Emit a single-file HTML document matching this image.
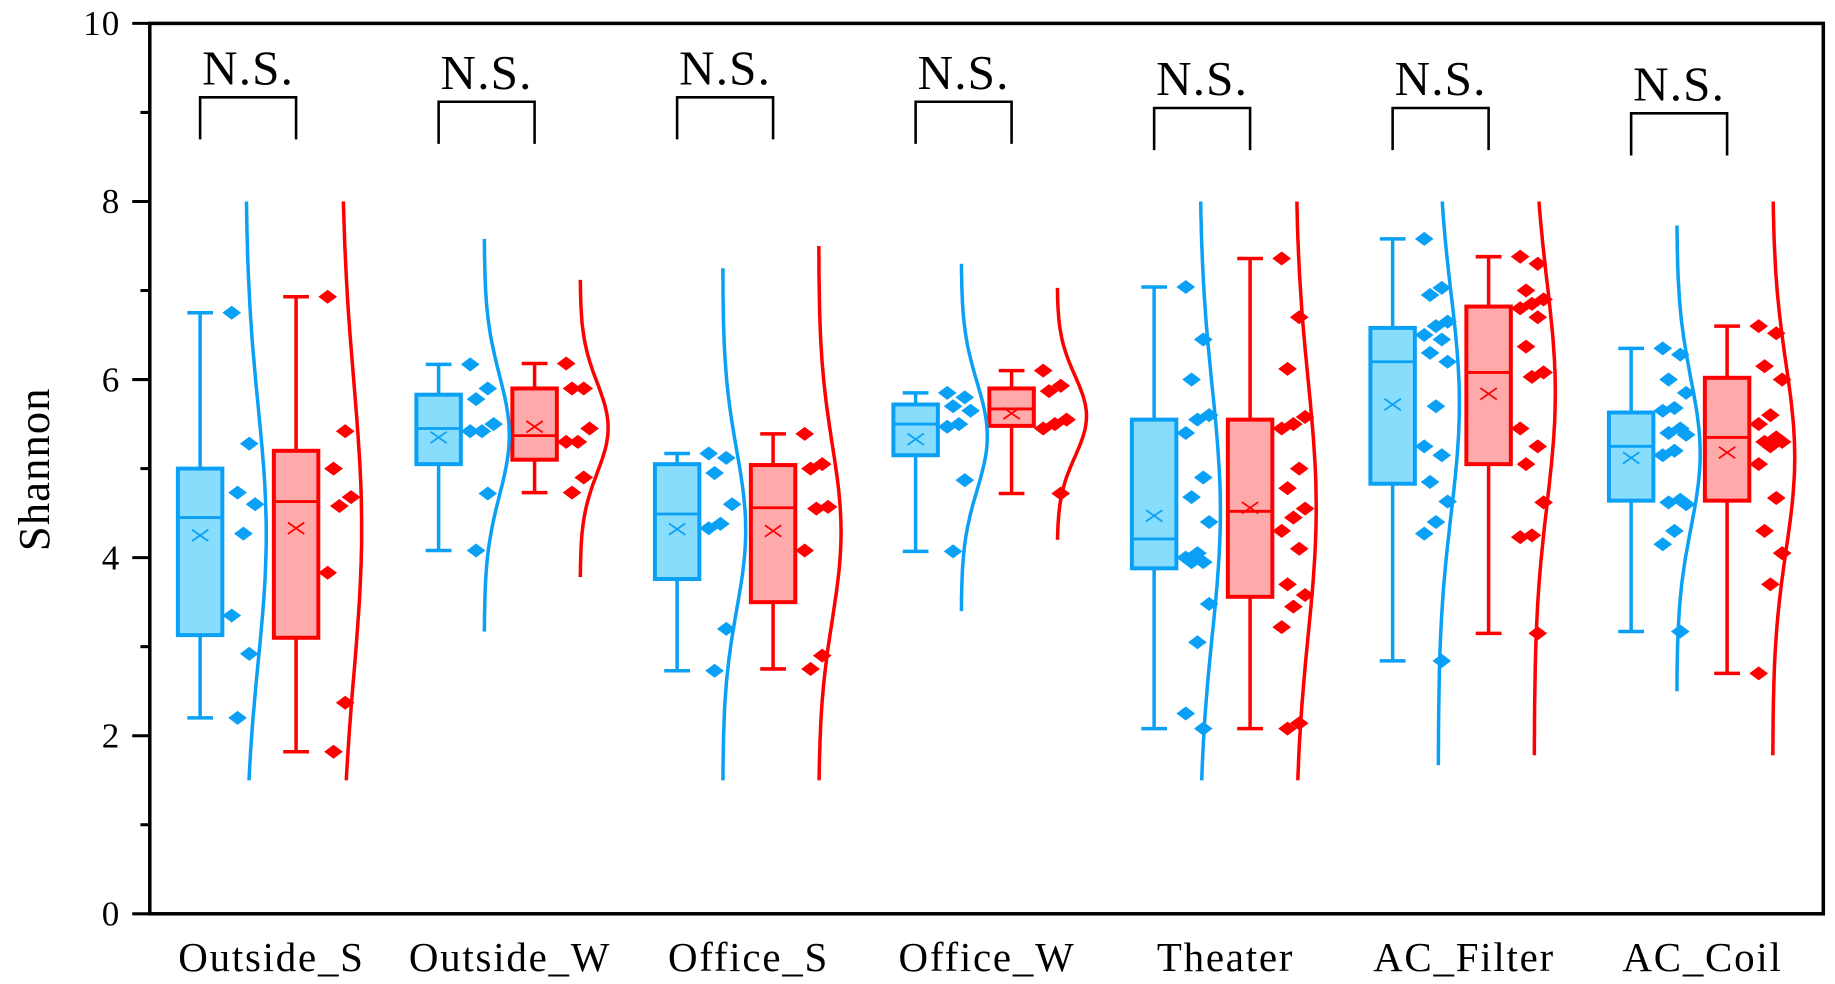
<!DOCTYPE html>
<html><head><meta charset="utf-8"><style>
html,body{margin:0;padding:0;background:#fff;}
svg{display:block;}
text{font-family:"Liberation Serif",serif;fill:#000;}
</style></head><body>
<svg id="chart" width="1835" height="984" viewBox="0 0 1568 841" preserveAspectRatio="none" xmlns="http://www.w3.org/2000/svg">
<g id="plot"></g>
</svg>
<script>
const categories=["Outside_S","Outside_W","Office_S","Office_W","Theater","AC_Filter","AC_Coil"];
const yTicks=[0,2,4,6,8,10];
// box stats: [whiskerLow, q1, median, q3, whiskerHigh, mean]
const blueStats=[[2.2,3.13,4.45,5.0,6.75,4.25],[4.08,5.05,5.45,5.83,6.17,5.35],[2.73,3.76,4.49,5.05,5.17,4.32],[4.07,5.15,5.5,5.72,5.85,5.33],[2.08,3.88,4.21,5.55,7.04,4.47],[2.84,4.83,6.2,6.58,7.58,5.72],[3.17,4.64,5.25,5.63,6.35,5.12]];
const redStats=[[1.82,3.1,4.63,5.2,6.93,4.33],[4.73,5.1,5.37,5.9,6.18,5.47],[2.75,3.5,4.56,5.04,5.39,4.3],[4.72,5.48,5.67,5.9,6.1,5.62],[2.08,3.56,4.52,5.55,7.36,4.56],[3.15,5.05,6.08,6.82,7.38,5.84],[2.7,4.64,5.35,6.02,6.6,5.18]];
const bluePoints=[[6.75,5.28,4.73,4.6,4.27,3.35,2.92,2.2],[6.17,5.9,5.78,5.5,5.42,5.42,4.72,4.08],[5.17,5.12,4.95,4.6,4.38,4.33,3.2,2.73],[5.85,5.8,5.7,5.65,5.5,5.47,4.87,4.07],[7.04,6.45,6.0,5.6,5.55,5.4,4.9,4.68,4.4,4.05,4.0,3.95,3.95,3.48,3.05,2.25,2.08],[7.58,7.03,6.95,6.65,6.6,6.5,6.45,6.3,6.2,5.7,5.25,5.15,4.85,4.63,4.4,4.27,2.84],[6.35,6.28,6.0,5.85,5.68,5.65,5.45,5.4,5.38,5.2,5.15,4.65,4.62,4.6,4.3,4.15,3.17]];
const redPoints=[[6.93,5.42,5.0,4.68,4.58,3.83,2.37,1.82],[6.18,5.9,5.9,5.45,5.3,5.3,4.9,4.73],[5.39,5.05,5.0,4.57,4.55,4.08,2.9,2.75],[6.1,5.93,5.87,5.55,5.5,5.45,4.72],[7.36,6.7,6.12,5.58,5.5,5.45,5.0,4.78,4.55,4.45,4.3,4.1,3.7,3.58,3.45,3.22,2.14,2.08],[7.38,7.3,7.0,6.9,6.85,6.8,6.7,6.37,6.08,6.03,5.45,5.25,5.05,4.62,4.25,4.23,3.15],[6.6,6.52,6.15,6.0,5.6,5.5,5.35,5.3,5.3,5.25,5.05,4.67,4.3,4.05,3.7,2.7]];
// density curve value ranges [low, high]
const blueCurveRange=[[1.5,8],[3.17,7.58],[1.5,7.25],[3.4,7.3],[1.5,8],[1.67,8],[2.5,7.73]];
const redCurveRange=[[1.5,8],[3.78,7.12],[1.5,7.5],[4.2,7.03],[1.5,8],[1.78,8],[1.78,8]];
const nsLevels=[9.17,9.12,9.17,9.12,9.05,9.05,8.99];

const NS="http://www.w3.org/2000/svg";
const L=128,R=1558,T=20,B=781;
const y=v=>B-v*(B-T)/10;
const xc=i=>171+203.8*i;
const BLUE="#0aa0f5",BLUEF="#88ddfd",RED="#ff0000",REDF="#ffaaaa";
const g=document.getElementById('plot');
function el(tag,attrs,parent){const e=document.createElementNS(NS,tag);for(const k in attrs)e.setAttribute(k,attrs[k]);(parent||g).appendChild(e);return e;}

const frame=el('rect',{x:L,y:T,width:R-L,height:B-T,fill:'none',stroke:'#000','stroke-width':3});


for(let v=0;v<=10;v++){
  const t=el('line',{x1:L-(v%2?8:15),x2:L,y1:y(v),y2:y(v),stroke:'#000','stroke-width':2.6});
  
  
}
yTicks.forEach(v=>{
  const t=el('text',{x:103,y:y(v)+10,'text-anchor':'end','font-size':30,'letter-spacing':1});
  t.textContent=v;
  
  
});
const yt=el('text',{x:0,y:0,'text-anchor':'middle','font-size':38,'letter-spacing':1,transform:'translate(42,401) rotate(-90)'});
yt.textContent='Shannon';



function drawBox(cx,s,stroke,fill,name){
  const grp=el('g',{});
  
  
  const w=38,cw=22;
  el('line',{x1:cx,x2:cx,y1:y(s[0]),y2:y(s[1]),stroke,'stroke-width':3},grp);
  el('line',{x1:cx,x2:cx,y1:y(s[3]),y2:y(s[4]),stroke,'stroke-width':3},grp);
  el('line',{x1:cx-cw/2,x2:cx+cw/2,y1:y(s[0]),y2:y(s[0]),stroke,'stroke-width':3},grp);
  el('line',{x1:cx-cw/2,x2:cx+cw/2,y1:y(s[4]),y2:y(s[4]),stroke,'stroke-width':3},grp);
  el('rect',{x:cx-w/2,y:y(s[3]),width:w,height:y(s[1])-y(s[3]),fill,stroke,'stroke-width':3.4},grp);
  el('line',{x1:cx-w/2,x2:cx+w/2,y1:y(s[2]),y2:y(s[2]),stroke,'stroke-width':2.4},grp);
  const m=y(s[5]),d=7;
  el('path',{d:`M${cx-d} ${m-d*0.7}L${cx+d} ${m+d*0.7}M${cx-d} ${m+d*0.7}L${cx+d} ${m-d*0.7}`,stroke,'stroke-width':1.5,fill:'none'},grp);
}
function stats(arr){const m=arr.reduce((a,b)=>a+b,0)/arr.length;const sd=Math.sqrt(arr.reduce((a,b)=>a+(b-m)*(b-m),0)/(arr.length-1));return [m,sd];}
function drawCurve(base,pts,range,stroke,name){
  const [m,sd]=stats(pts);const amp=14+5/sd;
  let d='';
  for(let k=0;k<=80;k++){const v=range[0]+(range[1]-range[0])*k/80;const x=base+amp*Math.exp(-0.5*((v-m)/sd)**2);d+=(k?'L':'M')+x.toFixed(1)+' '+y(v).toFixed(1);}
  const p=el('path',{d,fill:'none',stroke,'stroke-width':3});
  
  
}
function drawPoints(base,pts,color,name){
  pts.forEach((v,i)=>{
    const x=base+((i*3)%5-2)*5;const yy=y(v);
    const p=el('path',{d:`M${x-8} ${yy}L${x} ${yy-6}L${x+8} ${yy}L${x} ${yy+6}Z`,fill:color});
    
    
  });
}
categories.forEach((c,i)=>{
  const b=xc(i),r=b+82;
  drawBox(b,blueStats[i],BLUE,BLUEF,'box-blue-'+c.toLowerCase());
  drawBox(r,redStats[i],RED,REDF,'box-red-'+c.toLowerCase());
  drawCurve(b+39,bluePoints[i],blueCurveRange[i],BLUE,'density-blue');
  drawCurve(r+39,redPoints[i],redCurveRange[i],RED,'density-red');
  drawPoints(b+37,bluePoints[i],BLUE,'point-blue');
  drawPoints(r+37,redPoints[i],RED,'point-red');
  const ty=y(nsLevels[i]);
  const br=el('path',{d:`M${b} ${ty+36}V${ty}H${r}V${ty+36}`,fill:'none',stroke:'#000','stroke-width':2.2});
  
  
  const ns=el('text',{x:(b+r)/2,y:ty-11,'text-anchor':'middle','font-size':42,'letter-spacing':1});
  ns.textContent='N.S.';
  
  
  const cl=el('text',{x:(b+r)/2+20,y:830,'text-anchor':'middle','font-size':35,'letter-spacing':1.5});
  cl.textContent=c;
  
  
});
</script>
</body></html>
